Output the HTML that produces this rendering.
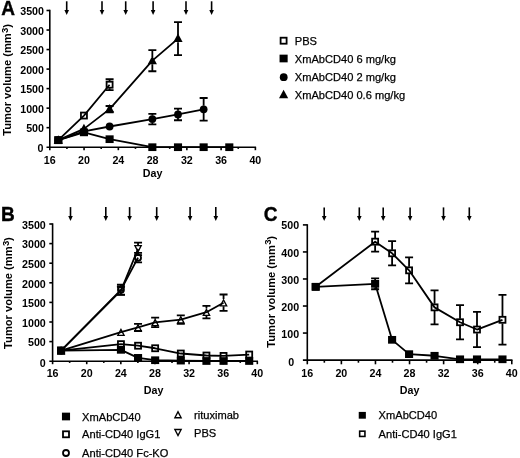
<!DOCTYPE html>
<html><head><meta charset="utf-8"><style>html,body{margin:0;padding:0;background:#fff;width:520px;height:458px;overflow:hidden}svg{display:block;filter:grayscale(1)}</style></head>
<body>
<svg width="520" height="458" viewBox="0 0 520 458">
<style>.t{font-family:"Liberation Sans",sans-serif;font-weight:bold;font-size:10.7px}.L{font-family:"Liberation Sans",sans-serif;font-weight:bold;font-size:20.5px;stroke:#000;stroke-width:0.4px}.yt{font-family:"Liberation Sans",sans-serif;font-weight:bold;font-size:11.15px}.g{font-family:"Liberation Sans",sans-serif;font-size:11.1px;stroke:#000;stroke-width:0.25px}</style>
<path d="M49.8 9.8V147.2" stroke="#000" stroke-width="1.6" fill="none"/>
<path d="M46.5 147.2H256.08" stroke="#000" stroke-width="1.6" fill="none"/>
<text x="43.5" y="152.3" text-anchor="end" class="t">0</text>
<path d="M46.5 127.67H49.8" stroke="#000" stroke-width="1.6"/>
<text x="44" y="132.47" text-anchor="end" class="t">500</text>
<path d="M46.5 108.14H49.8" stroke="#000" stroke-width="1.6"/>
<text x="44" y="112.94" text-anchor="end" class="t">1000</text>
<path d="M46.5 88.61H49.8" stroke="#000" stroke-width="1.6"/>
<text x="44" y="93.41" text-anchor="end" class="t">1500</text>
<path d="M46.5 69.09H49.8" stroke="#000" stroke-width="1.6"/>
<text x="44" y="73.89" text-anchor="end" class="t">2000</text>
<path d="M46.5 49.56H49.8" stroke="#000" stroke-width="1.6"/>
<text x="44" y="54.36" text-anchor="end" class="t">2500</text>
<path d="M46.5 30.03H49.8" stroke="#000" stroke-width="1.6"/>
<text x="44" y="34.83" text-anchor="end" class="t">3000</text>
<path d="M46.5 10.5H49.8" stroke="#000" stroke-width="1.6"/>
<text x="44" y="15.3" text-anchor="end" class="t">3500</text>
<path d="M49.8 147.2V150.2" stroke="#000" stroke-width="1.6"/>
<text x="49.8" y="163.8" text-anchor="middle" class="t">16</text>
<path d="M66.93 147.2V148.9" stroke="#000" stroke-width="1.6"/>
<path d="M84.06 147.2V150.2" stroke="#000" stroke-width="1.6"/>
<text x="84.06" y="163.8" text-anchor="middle" class="t">20</text>
<path d="M101.2 147.2V148.9" stroke="#000" stroke-width="1.6"/>
<path d="M118.33 147.2V150.2" stroke="#000" stroke-width="1.6"/>
<text x="118.33" y="163.8" text-anchor="middle" class="t">24</text>
<path d="M135.46 147.2V148.9" stroke="#000" stroke-width="1.6"/>
<path d="M152.59 147.2V150.2" stroke="#000" stroke-width="1.6"/>
<text x="152.59" y="163.8" text-anchor="middle" class="t">28</text>
<path d="M169.72 147.2V148.9" stroke="#000" stroke-width="1.6"/>
<path d="M186.86 147.2V150.2" stroke="#000" stroke-width="1.6"/>
<text x="186.86" y="163.8" text-anchor="middle" class="t">32</text>
<path d="M203.99 147.2V148.9" stroke="#000" stroke-width="1.6"/>
<path d="M221.12 147.2V150.2" stroke="#000" stroke-width="1.6"/>
<text x="221.12" y="163.8" text-anchor="middle" class="t">36</text>
<path d="M238.25 147.2V148.9" stroke="#000" stroke-width="1.6"/>
<path d="M255.38 147.2V150.2" stroke="#000" stroke-width="1.6"/>
<text x="255.38" y="163.8" text-anchor="middle" class="t">40</text>
<text x="152.59" y="176.7" text-anchor="middle" class="t">Day</text>
<text transform="translate(11.2 135.8) rotate(-90)" class="yt">Tumor volume (mm<tspan font-size="9.6" dx="0.3" dy="-3.5">3</tspan><tspan dx="-0.2" dy="3.5">)</tspan></text>
<text transform="translate(1.2 15.4) scale(0.93 1)" class="L">A</text>
<path d="M66.7 1.3V11.1" stroke="#000" stroke-width="1.6"/>
<path d="M64.4 10.1L69 10.1L66.7 15.1Z" fill="#000"/>
<path d="M102 1.3V11.1" stroke="#000" stroke-width="1.6"/>
<path d="M99.7 10.1L104.3 10.1L102 15.1Z" fill="#000"/>
<path d="M125.7 1.3V11.1" stroke="#000" stroke-width="1.6"/>
<path d="M123.4 10.1L128 10.1L125.7 15.1Z" fill="#000"/>
<path d="M153.1 1.3V11.1" stroke="#000" stroke-width="1.6"/>
<path d="M150.8 10.1L155.4 10.1L153.1 15.1Z" fill="#000"/>
<path d="M186 1.3V11.1" stroke="#000" stroke-width="1.6"/>
<path d="M183.7 10.1L188.3 10.1L186 15.1Z" fill="#000"/>
<path d="M211.6 1.3V11.1" stroke="#000" stroke-width="1.6"/>
<path d="M209.3 10.1L213.9 10.1L211.6 15.1Z" fill="#000"/>
<path d="M52.6 223.3V361.2" stroke="#000" stroke-width="1.6" fill="none"/>
<path d="M49.3 361.2H258.02" stroke="#000" stroke-width="1.6" fill="none"/>
<text x="45.8" y="366.6" text-anchor="end" class="t">0</text>
<path d="M49.3 341.6H52.6" stroke="#000" stroke-width="1.6"/>
<text x="45.8" y="346.4" text-anchor="end" class="t">500</text>
<path d="M49.3 322H52.6" stroke="#000" stroke-width="1.6"/>
<text x="45.8" y="326.8" text-anchor="end" class="t">1000</text>
<path d="M49.3 302.4H52.6" stroke="#000" stroke-width="1.6"/>
<text x="45.8" y="307.2" text-anchor="end" class="t">1500</text>
<path d="M49.3 282.8H52.6" stroke="#000" stroke-width="1.6"/>
<text x="45.8" y="287.6" text-anchor="end" class="t">2000</text>
<path d="M49.3 263.2H52.6" stroke="#000" stroke-width="1.6"/>
<text x="45.8" y="268" text-anchor="end" class="t">2500</text>
<path d="M49.3 243.6H52.6" stroke="#000" stroke-width="1.6"/>
<text x="45.8" y="248.4" text-anchor="end" class="t">3000</text>
<path d="M49.3 224H52.6" stroke="#000" stroke-width="1.6"/>
<text x="45.8" y="228.8" text-anchor="end" class="t">3500</text>
<path d="M52.6 361.2V364.2" stroke="#000" stroke-width="1.6"/>
<text x="52.6" y="376.9" text-anchor="middle" class="t">16</text>
<path d="M69.66 361.2V362.9" stroke="#000" stroke-width="1.6"/>
<path d="M86.72 361.2V364.2" stroke="#000" stroke-width="1.6"/>
<text x="86.72" y="376.9" text-anchor="middle" class="t">20</text>
<path d="M103.78 361.2V362.9" stroke="#000" stroke-width="1.6"/>
<path d="M120.84 361.2V364.2" stroke="#000" stroke-width="1.6"/>
<text x="120.84" y="376.9" text-anchor="middle" class="t">24</text>
<path d="M137.9 361.2V362.9" stroke="#000" stroke-width="1.6"/>
<path d="M154.96 361.2V364.2" stroke="#000" stroke-width="1.6"/>
<text x="154.96" y="376.9" text-anchor="middle" class="t">28</text>
<path d="M172.02 361.2V362.9" stroke="#000" stroke-width="1.6"/>
<path d="M189.08 361.2V364.2" stroke="#000" stroke-width="1.6"/>
<text x="189.08" y="376.9" text-anchor="middle" class="t">32</text>
<path d="M206.14 361.2V362.9" stroke="#000" stroke-width="1.6"/>
<path d="M223.2 361.2V364.2" stroke="#000" stroke-width="1.6"/>
<text x="223.2" y="376.9" text-anchor="middle" class="t">36</text>
<path d="M240.26 361.2V362.9" stroke="#000" stroke-width="1.6"/>
<path d="M257.32 361.2V364.2" stroke="#000" stroke-width="1.6"/>
<text x="257.32" y="376.9" text-anchor="middle" class="t">40</text>
<text x="153.56" y="393.8" text-anchor="middle" class="t">Day</text>
<text transform="translate(12 348.9) rotate(-90)" class="yt">Tumor volume (mm<tspan font-size="9.6" dx="0.3" dy="-3.5">3</tspan><tspan dx="-0.2" dy="3.5">)</tspan></text>
<text transform="translate(1 220.8) scale(0.93 1)" class="L">B</text>
<path d="M70.5 207.1V217.1" stroke="#000" stroke-width="1.6"/>
<path d="M68.2 216.1L72.8 216.1L70.5 221.1Z" fill="#000"/>
<path d="M105.8 207.1V217.1" stroke="#000" stroke-width="1.6"/>
<path d="M103.5 216.1L108.1 216.1L105.8 221.1Z" fill="#000"/>
<path d="M129.6 207.1V217.1" stroke="#000" stroke-width="1.6"/>
<path d="M127.3 216.1L131.9 216.1L129.6 221.1Z" fill="#000"/>
<path d="M156.7 207.1V217.1" stroke="#000" stroke-width="1.6"/>
<path d="M154.4 216.1L159 216.1L156.7 221.1Z" fill="#000"/>
<path d="M190.1 207.1V217.1" stroke="#000" stroke-width="1.6"/>
<path d="M187.8 216.1L192.4 216.1L190.1 221.1Z" fill="#000"/>
<path d="M215.8 207.1V217.1" stroke="#000" stroke-width="1.6"/>
<path d="M213.5 216.1L218.1 216.1L215.8 221.1Z" fill="#000"/>
<path d="M307.3 224.2V360.1" stroke="#000" stroke-width="1.6" fill="none"/>
<path d="M302.9 360.1H512.48" stroke="#000" stroke-width="1.6" fill="none"/>
<text x="294.2" y="365.5" text-anchor="end" class="t">0</text>
<path d="M302.9 333.06H307.3" stroke="#000" stroke-width="1.6"/>
<text x="299.1" y="338.36" text-anchor="end" class="t">100</text>
<path d="M302.9 306.02H307.3" stroke="#000" stroke-width="1.6"/>
<text x="299.1" y="311.37" text-anchor="end" class="t">200</text>
<path d="M302.9 278.98H307.3" stroke="#000" stroke-width="1.6"/>
<text x="299.1" y="283.83" text-anchor="end" class="t">300</text>
<path d="M302.9 251.94H307.3" stroke="#000" stroke-width="1.6"/>
<text x="299.1" y="256.69" text-anchor="end" class="t">400</text>
<path d="M302.9 224.9H307.3" stroke="#000" stroke-width="1.6"/>
<text x="299.1" y="228.9" text-anchor="end" class="t">500</text>
<path d="M307.3 360.1V364.3" stroke="#000" stroke-width="1.6"/>
<text x="307.3" y="377" text-anchor="middle" class="t">16</text>
<path d="M324.34 360.1V362.7" stroke="#000" stroke-width="1.6"/>
<path d="M341.38 360.1V364.3" stroke="#000" stroke-width="1.6"/>
<text x="341.38" y="377" text-anchor="middle" class="t">20</text>
<path d="M358.42 360.1V362.7" stroke="#000" stroke-width="1.6"/>
<path d="M375.46 360.1V364.3" stroke="#000" stroke-width="1.6"/>
<text x="375.46" y="377" text-anchor="middle" class="t">24</text>
<path d="M392.5 360.1V362.7" stroke="#000" stroke-width="1.6"/>
<path d="M409.54 360.1V364.3" stroke="#000" stroke-width="1.6"/>
<text x="409.54" y="377" text-anchor="middle" class="t">28</text>
<path d="M426.58 360.1V362.7" stroke="#000" stroke-width="1.6"/>
<path d="M443.62 360.1V364.3" stroke="#000" stroke-width="1.6"/>
<text x="443.62" y="377" text-anchor="middle" class="t">32</text>
<path d="M460.66 360.1V362.7" stroke="#000" stroke-width="1.6"/>
<path d="M477.7 360.1V364.3" stroke="#000" stroke-width="1.6"/>
<text x="477.7" y="377" text-anchor="middle" class="t">36</text>
<path d="M494.74 360.1V362.7" stroke="#000" stroke-width="1.6"/>
<path d="M511.78 360.1V364.3" stroke="#000" stroke-width="1.6"/>
<text x="511.78" y="377" text-anchor="middle" class="t">40</text>
<text x="409.54" y="394" text-anchor="middle" class="t">Day</text>
<text transform="translate(274.6 347.7) rotate(-90)" class="yt">Tumor volume (mm<tspan font-size="9.6" dx="0.3" dy="-3.5">3</tspan><tspan dx="-0.2" dy="3.5">)</tspan></text>
<text transform="translate(263.8 220.6) scale(0.93 1)" class="L">C</text>
<path d="M324.2 207.4V216.9" stroke="#000" stroke-width="1.6"/>
<path d="M321.9 215.9L326.5 215.9L324.2 220.9Z" fill="#000"/>
<path d="M359.3 207.4V216.9" stroke="#000" stroke-width="1.6"/>
<path d="M357 215.9L361.6 215.9L359.3 220.9Z" fill="#000"/>
<path d="M383.2 207.4V216.9" stroke="#000" stroke-width="1.6"/>
<path d="M380.9 215.9L385.5 215.9L383.2 220.9Z" fill="#000"/>
<path d="M410.1 207.4V216.9" stroke="#000" stroke-width="1.6"/>
<path d="M407.8 215.9L412.4 215.9L410.1 220.9Z" fill="#000"/>
<path d="M443.5 207.4V216.9" stroke="#000" stroke-width="1.6"/>
<path d="M441.2 215.9L445.8 215.9L443.5 220.9Z" fill="#000"/>
<path d="M469.3 207.4V216.9" stroke="#000" stroke-width="1.6"/>
<path d="M467 215.9L471.6 215.9L469.3 220.9Z" fill="#000"/>
<path d="M58.3 140.17 L83.95 115.56 L109.6 84.71" stroke="#000" stroke-width="1.8" fill="none" stroke-linejoin="round"/>
<path d="M109.6 79.24V81.11M109.6 88.31V90.18M105.6 79.24H113.6M105.6 90.18H113.6" stroke="#000" stroke-width="1.8"/>
<rect x="55.3" y="137.17" width="6" height="6" fill="none" stroke="#000" stroke-width="1.8"/>
<rect x="80.95" y="112.56" width="6" height="6" fill="none" stroke="#000" stroke-width="1.8"/>
<rect x="106.6" y="81.71" width="6" height="6" fill="none" stroke="#000" stroke-width="1.8"/>
<path d="M58.3 140.17 L83.95 128.84 L109.6 109.12 L152.35 60.69 L178 38.62" stroke="#000" stroke-width="1.8" fill="none" stroke-linejoin="round"/>
<path d="M105.6 105.99H113.6M105.6 112.24H113.6" stroke="#000" stroke-width="1.8"/>
<path d="M152.35 50.14V57.09M152.35 64.29V71.23M148.35 50.14H156.35M148.35 71.23H156.35" stroke="#000" stroke-width="1.8"/>
<path d="M178 22.22V35.02M178 42.22V55.03M174 22.22H182M174 55.03H182" stroke="#000" stroke-width="1.8"/>
<path d="M58.3 135.17L62.9 143.67L53.7 143.67Z" fill="#000"/>
<path d="M83.95 123.84L88.55 132.34L79.35 132.34Z" fill="#000"/>
<path d="M109.6 104.12L114.2 112.62L105 112.62Z" fill="#000"/>
<path d="M152.35 55.69L156.95 64.19L147.75 64.19Z" fill="#000"/>
<path d="M178 33.62L182.6 42.12L173.4 42.12Z" fill="#000"/>
<path d="M58.3 140.17 L83.95 131.38 L109.6 126.5 L152.35 119.08 L178 114.39 L203.65 109.31" stroke="#000" stroke-width="1.8" fill="none" stroke-linejoin="round"/>
<path d="M152.35 113.81V115.48M152.35 122.68V124.35M148.35 113.81H156.35M148.35 124.35H156.35" stroke="#000" stroke-width="1.8"/>
<path d="M178 108.53V110.79M178 117.99V120.25M174 108.53H182M174 120.25H182" stroke="#000" stroke-width="1.8"/>
<path d="M203.65 97.99V105.71M203.65 112.91V120.64M199.65 97.99H207.65M199.65 120.64H207.65" stroke="#000" stroke-width="1.8"/>
<circle cx="58.3" cy="140.17" r="3.9" fill="#000"/>
<circle cx="83.95" cy="131.38" r="3.9" fill="#000"/>
<circle cx="109.6" cy="126.5" r="3.9" fill="#000"/>
<circle cx="152.35" cy="119.08" r="3.9" fill="#000"/>
<circle cx="178" cy="114.39" r="3.9" fill="#000"/>
<circle cx="203.65" cy="109.31" r="3.9" fill="#000"/>
<path d="M58.3 140.17 L83.95 132.36 L109.6 139.19 L152.35 147.2 L178 147.2 L203.65 147.2 L229.3 147.2" stroke="#000" stroke-width="1.8" fill="none" stroke-linejoin="round"/>
<rect x="54.25" y="136.32" width="8.1" height="7.7" fill="#000"/>
<rect x="79.9" y="128.51" width="8.1" height="7.7" fill="#000"/>
<rect x="105.55" y="135.34" width="8.1" height="7.7" fill="#000"/>
<rect x="148.3" y="143.35" width="8.1" height="7.7" fill="#000"/>
<rect x="173.95" y="143.35" width="8.1" height="7.7" fill="#000"/>
<rect x="199.6" y="143.35" width="8.1" height="7.7" fill="#000"/>
<rect x="225.25" y="143.35" width="8.1" height="7.7" fill="#000"/>
<path d="M61.1 350.62 L120.95 349.83 L138.05 357.87 L155.15 360.22 L180.8 360.61 L206.45 361 L223.55 361 L249.2 361" stroke="#000" stroke-width="1.8" fill="none" stroke-linejoin="round"/>
<rect x="57.05" y="346.77" width="8.1" height="7.7" fill="#000"/>
<rect x="116.9" y="345.98" width="8.1" height="7.7" fill="#000"/>
<rect x="134" y="354.02" width="8.1" height="7.7" fill="#000"/>
<rect x="151.1" y="356.37" width="8.1" height="7.7" fill="#000"/>
<rect x="176.75" y="356.76" width="8.1" height="7.7" fill="#000"/>
<rect x="202.4" y="357.15" width="8.1" height="7.7" fill="#000"/>
<rect x="219.5" y="357.15" width="8.1" height="7.7" fill="#000"/>
<rect x="245.15" y="357.15" width="8.1" height="7.7" fill="#000"/>
<path d="M61.1 350.62 L120.95 344.15 L138.05 345.72 L155.15 348.26 L180.8 353.52 L206.45 355.52 L223.55 355.91 L249.2 354.54" stroke="#000" stroke-width="1.8" fill="none" stroke-linejoin="round"/>
<rect x="58.1" y="347.62" width="6" height="6" fill="none" stroke="#000" stroke-width="1.8"/>
<rect x="117.95" y="341.15" width="6" height="6" fill="none" stroke="#000" stroke-width="1.8"/>
<rect x="135.05" y="342.72" width="6" height="6" fill="none" stroke="#000" stroke-width="1.8"/>
<rect x="152.15" y="345.26" width="6" height="6" fill="none" stroke="#000" stroke-width="1.8"/>
<rect x="177.8" y="350.52" width="6" height="6" fill="none" stroke="#000" stroke-width="1.8"/>
<rect x="203.45" y="352.52" width="6" height="6" fill="none" stroke="#000" stroke-width="1.8"/>
<rect x="220.55" y="352.91" width="6" height="6" fill="none" stroke="#000" stroke-width="1.8"/>
<rect x="246.2" y="351.54" width="6" height="6" fill="none" stroke="#000" stroke-width="1.8"/>
<path d="M61.1 350.62 L120.95 332.19 L138.05 327.49 L155.15 322.39 L180.8 319.65 L206.45 312.2 L223.55 302.71" stroke="#000" stroke-width="1.8" fill="none" stroke-linejoin="round"/>
<path d="M134.05 323.96H142.05M134.05 331.02H142.05" stroke="#000" stroke-width="1.8"/>
<path d="M155.15 317.69V318.79M155.15 325.99V327.1M151.15 317.69H159.15M151.15 327.1H159.15" stroke="#000" stroke-width="1.8"/>
<path d="M180.8 315.34V316.05M180.8 323.25V323.96M176.8 315.34H184.8M176.8 323.96H184.8" stroke="#000" stroke-width="1.8"/>
<path d="M206.45 305.93V308.6M206.45 315.8V318.47M202.45 305.93H210.45M202.45 318.47H210.45" stroke="#000" stroke-width="1.8"/>
<path d="M223.55 294.48V299.11M223.55 306.31V310.95M219.55 294.48H227.55M219.55 310.95H227.55" stroke="#000" stroke-width="1.8"/>
<path d="M61.1 346.32 L65.35 354.52 L56.85 354.52Z M59.07 353.17 L63.13 353.17 L61.1 349.25Z" fill="#000" fill-rule="evenodd"/>
<path d="M120.95 327.89 L125.2 336.09 L116.7 336.09Z M118.92 334.74 L122.98 334.74 L120.95 330.83Z" fill="#000" fill-rule="evenodd"/>
<path d="M138.05 323.19 L142.3 331.39 L133.8 331.39Z M136.02 330.04 L140.08 330.04 L138.05 326.12Z" fill="#000" fill-rule="evenodd"/>
<path d="M155.15 318.09 L159.4 326.29 L150.9 326.29Z M153.12 324.94 L157.18 324.94 L155.15 321.03Z" fill="#000" fill-rule="evenodd"/>
<path d="M180.8 315.35 L185.05 323.55 L176.55 323.55Z M178.77 322.2 L182.83 322.2 L180.8 318.28Z" fill="#000" fill-rule="evenodd"/>
<path d="M206.45 307.9 L210.7 316.1 L202.2 316.1Z M204.42 314.75 L208.48 314.75 L206.45 310.83Z" fill="#000" fill-rule="evenodd"/>
<path d="M223.55 298.41 L227.8 306.61 L219.3 306.61Z M221.52 305.26 L225.58 305.26 L223.55 301.35Z" fill="#000" fill-rule="evenodd"/>
<path d="M61.1 350.62 L120.95 289.86 L138.05 257.67" stroke="#000" stroke-width="1.8" fill="none" stroke-linejoin="round"/>
<path d="M120.95 284.76V286.26M120.95 293.46V294.95M116.95 284.76H124.95M116.95 294.95H124.95" stroke="#000" stroke-width="1.8"/>
<path d="M138.05 252.97V254.07M138.05 261.27V262.38M134.05 252.97H142.05M134.05 262.38H142.05" stroke="#000" stroke-width="1.8"/>
<circle cx="61.1" cy="350.62" r="3" fill="none" stroke="#000" stroke-width="1.8"/>
<circle cx="120.95" cy="289.86" r="3" fill="none" stroke="#000" stroke-width="1.8"/>
<circle cx="138.05" cy="257.67" r="3" fill="none" stroke="#000" stroke-width="1.8"/>
<path d="M61.1 350.62 L120.95 290.64 L138.05 248.89" stroke="#000" stroke-width="1.8" fill="none" stroke-linejoin="round"/>
<path d="M120.95 286.72V287.04M120.95 294.24V294.56M116.95 286.72H124.95M116.95 294.56H124.95" stroke="#000" stroke-width="1.8"/>
<path d="M138.05 242.62V245.29M138.05 252.49V255.16M134.05 242.62H142.05M134.05 255.16H142.05" stroke="#000" stroke-width="1.8"/>
<path d="M61.1 354.92 L65.35 346.72 L56.85 346.72Z M59.07 348.07 L63.13 348.07 L61.1 351.98Z" fill="#000" fill-rule="evenodd"/>
<path d="M120.95 294.94 L125.2 286.74 L116.7 286.74Z M118.92 288.09 L122.98 288.09 L120.95 292.01Z" fill="#000" fill-rule="evenodd"/>
<path d="M138.05 253.19 L142.3 244.99 L133.8 244.99Z M136.02 246.34 L140.08 246.34 L138.05 250.26Z" fill="#000" fill-rule="evenodd"/>
<path d="M315.69 286.82 L375.12 283.85 L392.1 339.82 L409.08 354.15 L434.55 355.77 L460.02 359.29 L477 359.29 L502.47 359.29" stroke="#000" stroke-width="1.8" fill="none" stroke-linejoin="round"/>
<path d="M375.12 278.44V280.25M375.12 287.45V289.26M371.12 278.44H379.12M371.12 289.26H379.12" stroke="#000" stroke-width="1.8"/>
<rect x="311.64" y="282.97" width="8.1" height="7.7" fill="#000"/>
<rect x="371.07" y="280" width="8.1" height="7.7" fill="#000"/>
<rect x="388.05" y="335.97" width="8.1" height="7.7" fill="#000"/>
<rect x="405.03" y="350.3" width="8.1" height="7.7" fill="#000"/>
<rect x="430.5" y="351.92" width="8.1" height="7.7" fill="#000"/>
<rect x="455.97" y="355.44" width="8.1" height="7.7" fill="#000"/>
<rect x="472.95" y="355.44" width="8.1" height="7.7" fill="#000"/>
<rect x="498.42" y="355.44" width="8.1" height="7.7" fill="#000"/>
<path d="M315.69 286.82 L375.12 241.66 L392.1 253.29 L409.08 270.33 L434.55 307.37 L460.02 322.24 L477 329.54 L502.47 319.81" stroke="#000" stroke-width="1.8" fill="none" stroke-linejoin="round"/>
<path d="M375.12 231.66V238.06M375.12 245.26V251.67M371.12 231.66H379.12M371.12 251.67H379.12" stroke="#000" stroke-width="1.8"/>
<path d="M392.1 241.12V249.69M392.1 256.89V265.46M388.1 241.12H396.1M388.1 265.46H396.1" stroke="#000" stroke-width="1.8"/>
<path d="M409.08 257.35V266.73M409.08 273.93V283.31M405.08 257.35H413.08M405.08 283.31H413.08" stroke="#000" stroke-width="1.8"/>
<path d="M434.55 290.34V303.77M434.55 310.97V324.41M430.55 290.34H438.55M430.55 324.41H438.55" stroke="#000" stroke-width="1.8"/>
<path d="M460.02 305.21V318.64M460.02 325.84V339.28M456.02 305.21H464.02M456.02 339.28H464.02" stroke="#000" stroke-width="1.8"/>
<path d="M477 311.97V325.94M477 333.14V347.12M473 311.97H481M473 347.12H481" stroke="#000" stroke-width="1.8"/>
<path d="M502.47 294.93V316.21M502.47 323.41V344.69M498.47 294.93H506.47M498.47 344.69H506.47" stroke="#000" stroke-width="1.8"/>
<rect x="312.69" y="283.82" width="6" height="6" fill="none" stroke="#000" stroke-width="1.8"/>
<rect x="372.12" y="238.66" width="6" height="6" fill="none" stroke="#000" stroke-width="1.8"/>
<rect x="389.1" y="250.29" width="6" height="6" fill="none" stroke="#000" stroke-width="1.8"/>
<rect x="406.08" y="267.33" width="6" height="6" fill="none" stroke="#000" stroke-width="1.8"/>
<rect x="431.55" y="304.37" width="6" height="6" fill="none" stroke="#000" stroke-width="1.8"/>
<rect x="457.02" y="319.24" width="6" height="6" fill="none" stroke="#000" stroke-width="1.8"/>
<rect x="474" y="326.54" width="6" height="6" fill="none" stroke="#000" stroke-width="1.8"/>
<rect x="499.47" y="316.81" width="6" height="6" fill="none" stroke="#000" stroke-width="1.8"/>
<rect x="280.6" y="37.7" width="6" height="6" fill="none" stroke="#000" stroke-width="1.8"/>
<text x="294.8" y="44.7" class="g">PBS</text>
<rect x="279.55" y="54.65" width="8.1" height="7.7" fill="#000"/>
<text x="294.8" y="62.5" class="g">XmAbCD40 6 mg/kg</text>
<circle cx="283.7" cy="77.2" r="3.9" fill="#000"/>
<text x="294.8" y="81.2" class="g">XmAbCD40 2 mg/kg</text>
<path d="M283.6 89.7L288.2 98.2L279 98.2Z" fill="#000"/>
<text x="294.8" y="98.7" class="g">XmAbCD40 0.6 mg/kg</text>
<rect x="61.95" y="412.65" width="8.1" height="7.7" fill="#000"/>
<text x="82.1" y="420.5" class="g">XmAbCD40</text>
<rect x="63" y="431.3" width="6" height="6" fill="none" stroke="#000" stroke-width="1.8"/>
<text x="82.1" y="438.3" class="g">Anti-CD40 IgG1</text>
<circle cx="66" cy="453" r="3" fill="none" stroke="#000" stroke-width="1.8"/>
<text x="82.1" y="457" class="g">Anti-CD40 Fc-KO</text>
<path d="M178 410.2 L182.25 418.4 L173.75 418.4Z M175.97 417.05 L180.03 417.05 L178 413.13Z" fill="#000" fill-rule="evenodd"/>
<text x="194" y="418.5" class="g">rituximab</text>
<path d="M178 437 L182.25 428.8 L173.75 428.8Z M175.97 430.15 L180.03 430.15 L178 434.07Z" fill="#000" fill-rule="evenodd"/>
<text x="194" y="436.7" class="g">PBS</text>
<g transform="translate(362.3 415.3) scale(0.88) translate(-362.3 -415.3)">
<rect x="358.25" y="411.45" width="8.1" height="7.7" fill="#000"/>
</g>
<text x="378.6" y="419.3" class="g">XmAbCD40</text>
<g transform="translate(362.3 433.8) scale(0.88) translate(-362.3 -433.8)">
<rect x="359.3" y="430.8" width="6" height="6" fill="none" stroke="#000" stroke-width="1.8"/>
</g>
<text x="378.6" y="437.8" class="g">Anti-CD40 IgG1</text>
</svg>
</body></html>
